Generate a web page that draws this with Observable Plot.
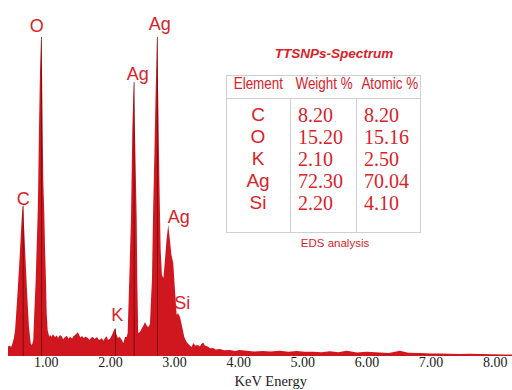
<!DOCTYPE html>
<html>
<head>
<meta charset="utf-8">
<script src="https://cdn.jsdelivr.net/npm/d3@7"></script>
<script src="https://cdn.jsdelivr.net/npm/@observablehq/plot@0.6"></script>
<style>
  body { margin: 0; background: #fff; }
  #wrap { position: relative; width: 512px; height: 390px; overflow: hidden; }
  .abs { position: absolute; white-space: nowrap; }
</style>
</head>
<body>
<div id="wrap"></div>
<script>
// ---- Spectrum (energy in keV, counts in % of the highest peak) ----
const keV = [0.41,0.44,0.46,0.48,0.50,0.52,0.555,0.586,0.613,0.630,0.639,0.648,0.664,0.686,0.711,0.737,0.764,0.779,0.79,
  0.804,0.820,0.842,0.857,0.873,0.882,0.893,0.909,0.925,0.940,0.951,0.960,0.976,0.987,1.002,1.013,1.029,1.054,
  1.065,1.09,1.11,1.143,1.17,1.19,1.221,1.25,1.27,1.299,1.33,1.35,1.377,1.41,1.43,1.455,1.48,1.501,1.52,1.54,1.564,
  1.59,1.62,1.657,1.68,1.71,1.735,1.76,1.798,1.82,1.844,1.87,1.90,1.922,1.95,1.969,2.0,2.031,2.06,2.078,2.095,
  2.125,2.15,2.187,2.208,2.234,2.261,2.276,2.301,2.328,2.348,2.370,2.390,2.417,2.426,2.441,2.468,2.499,2.52,
  2.546,2.57,2.597,2.624,2.640,2.655,2.671,2.694,2.710,2.733,2.753,2.764,2.775,2.791,2.811,2.834,2.858,2.881,
  2.909,2.936,2.959,2.987,3.014,3.040,3.06,3.092,3.128,3.159,3.196,3.23,3.274,3.299,3.33,3.372,3.40,3.43,3.455,
  3.48,3.533,3.56,3.606,3.65,3.715,3.78,3.871,3.95,4.02,4.132,4.25,4.386,4.5,4.651,4.78,4.911,5.04,5.165,5.3,
  5.43,5.56,5.691,5.85,6.0,6.21,6.35,6.522,6.65,6.834,7.0,7.145,7.3,7.457,7.6,7.769,7.95,8.159,8.27];
const counts = [3.0,3.2,2.8,4.0,5.5,8,18.5,29,39,45,47,45,39,29,18.5,9,4,3.4,3.8,
  5,13.4,23.75,34,44.6,55,70.6,89,99.7,89,70.6,55,44.6,34,23.75,13.4,8,6,
  6.6,6.0,6.8,5.9,6.4,5.6,6.6,6.1,5.2,5.9,6.3,5.4,5.9,5.5,6.2,6.6,7.0,7.4,6.6,5.8,6.25,
  5.6,6.0,5.6,5.0,5.8,5.9,5.3,5.9,5.2,5.0,5.6,4.8,5.6,6.2,5.0,5.4,6.6,8.0,8.6,7.0,
  5.6,6.0,5.0,4.0,5.9,5.9,7.2,23.75,43,69.7,85.6,69.7,43,23.75,7.2,7.5,8.75,9.4,
  10.6,9.6,9,10,17.5,23.75,43,64,80,99.7,80,64,50,33,25.3,24.4,30,36,
  41,36,31.6,29,20.6,12.8,13.4,12.2,9,5.9,4.4,3.6,2.8,4.1,3.3,3.4,3.0,3.8,4.2,
  3.3,2.9,2.4,2.5,2.0,2.2,1.8,1.9,1.6,1.9,1.65,1.4,1.6,1.4,1.65,1.3,1.6,1.3,1.35,1.2,
  1.45,1.2,1.65,1.1,1.3,1.1,0.9,1.65,1.0,0.95,0.8,0.8,0.7,0.6,0.7,0.6,0.55,0.5,0.5];

// ---- Peak marker lines ----
const peakKeV    = [0.639, 0.925, 2.078, 2.370, 2.733];
const peakCounts = [47, 99.7, 8.6, 85.6, 99.7];

// ---- Peak labels ----
const labelText   = ["C", "O", "K", "Ag", "Ag", "Ag", "Si"];
const labelKeV    = [0.639, 0.851, 2.105, 2.426, 2.769, 3.065, 3.118];
const labelCounts = [49, 103.1, 12.8, 88.1, 103.9, 43.5, 16.5];

// ---- Axis ----
const tickValues = [1, 2, 3, 4, 5, 6, 7, 8];
const xTitle = "KeV Energy";

// ---- Inset table ----
const tableTitle = "TTSNPs-Spectrum";
const tableHeaders = ["Element", "Weight %", "Atomic %"];
const elements  = ["C", "O", "K", "Ag", "Si"];
const weightPct = ["8.20", "15.20", "2.10", "72.30", "2.20"];
const atomicPct = ["8.20", "15.16", "2.50", "70.04", "4.10"];
const tableCaption = "EDS analysis";

const RED = "#d0161e";
const TXT = "#d8232a";

const spectrum = keV.map((k, i) => ({keV: k, counts: counts[i]}));
const peaks = peakKeV.map((k, i) => ({keV: k, counts: peakCounts[i]}));
const labels = labelText.map((t, i) => ({label: t, keV: labelKeV[i], counts: labelCounts[i]}));
const titleRow = [{t: xTitle, keV: (tickValues[0] + tickValues[tickValues.length - 1]) / 2}];

const chart = Plot.plot({
  width: 512, height: 390,
  marginLeft: 8, marginRight: 0, marginTop: 36, marginBottom: 34,
  style: {background: "white", fontFamily: "Liberation Serif", fontSize: "14px", color: "#222", overflow: "visible"},
  x: {domain: [0.41, 8.27], ticks: tickValues, tickFormat: d3.format(".2f"), tickSize: 0, tickPadding: 1, label: null},
  y: {domain: [0, 100], axis: null},
  marks: [
    Plot.areaY(spectrum, {x: "keV", y: "counts", fill: RED, curve: "linear"}),
    Plot.ruleX(peaks, {x: "keV", y1: 0, y2: "counts", stroke: "#6a0808", strokeWidth: 1, strokeOpacity: 0.75}),
    Plot.text(labels, {x: "keV", y: "counts", text: "label", fill: TXT, fontSize: 18, fontFamily: "Liberation Sans"}),
    Plot.text(titleRow, {x: "keV", text: "t", frameAnchor: "bottom", dy: 29, fontSize: 14.5, fill: "#222", fontFamily: "Liberation Serif"})
  ]
});

const wrap = document.getElementById("wrap");
wrap.appendChild(chart);

function add(html, css) {
  const d = document.createElement("div");
  d.className = "abs";
  d.innerHTML = html;
  Object.assign(d.style, css);
  wrap.appendChild(d);
  return d;
}

// Table geometry
const L = 226, T = 75, W = 195, H = 158, headH = 23;
const colX = [226, 290, 356, 421];

add(tableTitle, {left: "234px", width: "200px", top: "46px", lineHeight: "18px", textAlign: "center",
  font: "italic bold 13.5px 'Liberation Sans'", color: TXT});

add("", {left: L + "px", top: T + "px", width: W + "px", height: H + "px", border: "1px solid #cfcfcf", boxSizing: "border-box"});
add("", {left: L + "px", top: (T + headH) + "px", width: W + "px", height: "0", borderTop: "1px solid #cfcfcf"});
[1, 2].forEach(i => add("", {left: colX[i] + "px", top: (T + headH) + "px", width: "0", height: (H - headH) + "px", borderLeft: "1px solid #cfcfcf"}));

tableHeaders.forEach((h, i) => {
  add(`<span style="display:inline-block;transform:scaleX(0.84);transform-origin:center">${h}</span>`,
    {left: colX[i] + "px", width: (colX[i + 1] - colX[i]) + "px", top: T + "px", height: headH + "px",
     lineHeight: headH + "px", textAlign: "center", font: "16px 'Liberation Sans'", color: TXT});
});

const rowTop = 104, rowH = 22;
elements.forEach((e, r) => {
  add(e, {left: colX[0] + "px", width: (colX[1] - colX[0]) + "px", top: (rowTop + r * rowH) + "px",
    lineHeight: rowH + "px", textAlign: "center", font: "19px 'Liberation Sans'", color: TXT});
  add(weightPct[r], {left: (colX[1] + 8) + "px", top: (rowTop + r * rowH) + "px",
    lineHeight: rowH + "px", font: "20px 'Liberation Serif'", color: TXT});
  add(atomicPct[r], {left: (colX[2] + 8) + "px", top: (rowTop + r * rowH) + "px",
    lineHeight: rowH + "px", font: "20px 'Liberation Serif'", color: TXT});
});

add(tableCaption, {left: "285px", width: "100px", top: "237px", lineHeight: "14px", textAlign: "center",
  font: "11.5px 'Liberation Sans'", color: TXT});
</script>
</body>
</html>
